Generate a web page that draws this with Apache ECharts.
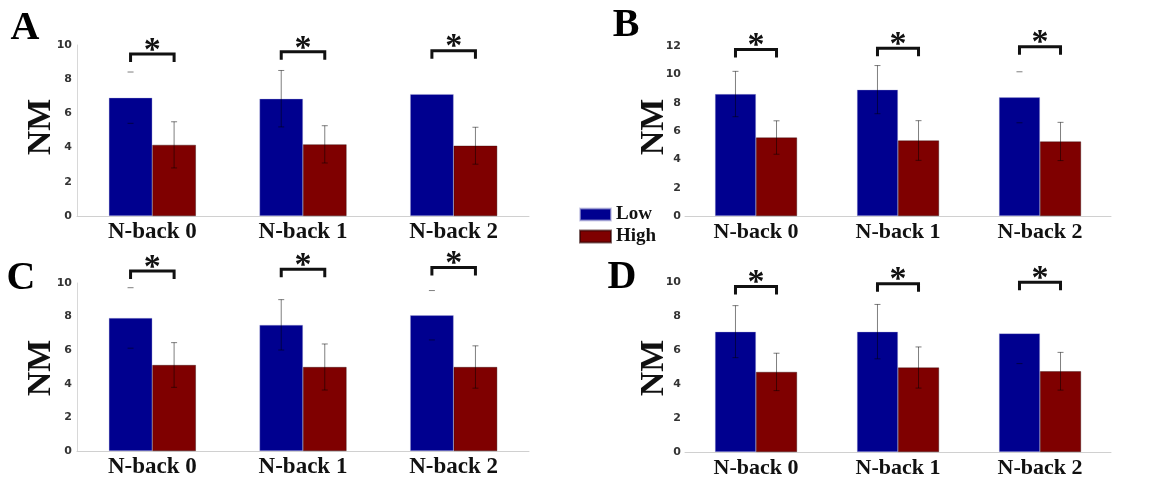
<!DOCTYPE html>
<html>
<head>
<meta charset="utf-8">
<script src="https://cdn.jsdelivr.net/npm/echarts@6/dist/echarts.min.js"></script>
<style>html,body{margin:0;padding:0;background:#fff;}#c{width:1154px;height:479px;}</style>
</head>
<body>
<div id="c"></div>
<script>
// ---------- data ----------
const categories = ['N-back 0', 'N-back 1', 'N-back 2'];
const seriesNames = ['Low', 'High'];
const panelLetters = ['A', 'B', 'C', 'D'];
const yAxisTitle = 'NM';
const yMax = [10, 12, 10, 10];
const yInterval = 2;

// Panel A
const lowA = [6.92, 6.86, 7.13];
const highA = [4.16, 4.19, 4.11];
const lowErrA = [1.5, 1.65, 1.5];
const highErrA = [1.35, 1.09, 1.08];
const sigA = [9.47, 9.6, 9.67];
// Panel B
const lowB = [8.61, 8.92, 8.38];
const highB = [5.54, 5.33, 5.26];
const lowErrB = [1.6, 1.7, 1.8];
const highErrB = [1.18, 1.4, 1.35];
const sigB = [11.76, 11.85, 11.95];
// Panel C
const lowC = [7.92, 7.51, 8.08];
const highC = [5.12, 5.0, 5.0];
const lowErrC = [1.8, 1.5, 1.47];
const highErrC = [1.33, 1.37, 1.26];
const sigC = [10.72, 10.82, 10.92];
// Panel D
const lowD = [7.08, 7.08, 6.98];
const highD = [4.71, 4.97, 4.75];
const lowErrD = [1.53, 1.6, 1.78];
const highErrD = [1.1, 1.21, 1.11];
const sigD = [9.74, 9.9, 9.98];

// how the (partly hidden) error bars of the Low series show up in the figure
const lowErrShown = [
  ['caps', 'full', 'none'],
  ['full', 'full', 'caps'],
  ['caps', 'full', 'caps'],
  ['full', 'full', 'bottom']
];

const panels = [
  {low: lowA, high: highA, lowErr: lowErrA, highErr: highErrA, sig: sigA},
  {low: lowB, high: highB, lowErr: lowErrB, highErr: highErrB, sig: sigB},
  {low: lowC, high: highC, lowErr: lowErrC, highErr: highErrC, sig: sigC},
  {low: lowD, high: highD, lowErr: lowErrD, highErr: highErrD, sig: sigD}
];

// ---------- layout / style ----------
const BAR_FRAC = 0.289;
const COLORS = ['#00008f', '#7f0000'];
const SERIF = '"Liberation Serif", "Times New Roman", serif';
const grids = [
  {left: 77, top: 45, width: 452, height: 171},
  {left: 685, top: 46, width: 426, height: 170},
  {left: 77, top: 283, width: 452, height: 170},
  {left: 685, top: 282, width: 426, height: 171}
];
const letterPos = [[25, 29], [626, 26], [21, 279], [622, 278]];
const nmPos = [[41, 127], [654, 127], [41, 368], [654, 368]];

const chart = echarts.init(document.getElementById('c'), null, {renderer: 'canvas'});

function errRenderer(sign, modes) {
  return function (params, api) {
    const i = api.value(0), v = api.value(1), e = api.value(2);
    const mode = modes ? modes[params.dataIndex] : 'full';
    if (mode === 'none') return null;
    const band = api.size([1, 0])[0];
    const dx = sign * band * BAR_FRAC / 2;
    const pt = api.coord([i, v + e]);
    const pb = api.coord([i, v - e]);
    const x = pt[0] + dx;
    const cw = 3;
    const st = {stroke: 'rgba(0,0,0,0.5)', lineWidth: 1};
    const children = [];
    if (mode === 'full') {
      children.push({type: 'line', shape: {x1: x, y1: pt[1], x2: x, y2: pb[1]}, style: st});
    }
    if (mode !== 'bottom') {
      children.push({type: 'line', shape: {x1: x - cw, y1: pt[1], x2: x + cw, y2: pt[1]}, style: st});
    }
    children.push({type: 'line', shape: {x1: x - cw, y1: pb[1], x2: x + cw, y2: pb[1]}, style: st});
    return {type: 'group', children: children};
  };
}

function sigRenderer(params, api) {
  const i = api.value(0), v = api.value(1);
  const band = api.size([1, 0])[0];
  const half = band * BAR_FRAC / 2;
  const p = api.coord([i, v]);
  const x1 = p[0] - half, x2 = p[0] + half, y = p[1];
  const leg = 8;
  return {
    type: 'group',
    children: [
      {type: 'polyline', shape: {points: [[x1, y + leg], [x1, y], [x2, y], [x2, y + leg]]},
       style: {stroke: '#111', lineWidth: 3, fill: null}},
      {type: 'text', z2: 10, style: {text: '*', x: (x1 + x2) / 2, y: y - 3, align: 'center', verticalAlign: 'middle',
        font: 'bold 34px ' + SERIF, fill: '#111'}}
    ]
  };
}

const xAxes = [], yAxes = [], series = [], graphics = [];
panels.forEach(function (p, k) {
  const wide = (k === 0 || k === 2);
  xAxes.push({
    gridIndex: k, type: 'category', data: categories,
    axisLine: {show: true, lineStyle: {color: '#d0d0d0', width: 1}},
    axisTick: {show: false},
    axisLabel: {margin: 5, color: '#111', fontFamily: SERIF, fontWeight: 'bold', fontSize: wide ? 23 : 22}
  });
  yAxes.push({
    gridIndex: k, type: 'value', min: 0, max: yMax[k], interval: yInterval,
    axisLine: {show: wide, lineStyle: {color: '#d8d8d8', width: 1}},
    axisTick: {show: false},
    splitLine: {show: false},
    axisLabel: {margin: wide ? 5 : 4, color: '#333', fontFamily: '"DejaVu Sans", sans-serif', fontWeight: 'bold', fontSize: 11}
  });
  [p.low, p.high].forEach(function (vals, s) {
    series.push({
      name: seriesNames[s], type: 'bar', xAxisIndex: k, yAxisIndex: k,
      data: vals, barWidth: (BAR_FRAC * 100) + '%', barGap: '0%',
      itemStyle: {color: COLORS[s], borderColor: s === 0 ? 'rgba(180,180,220,0.6)' : 'rgba(40,0,0,0.6)', borderWidth: 0.6},
      z: 2
    });
  });
  series.push({
    type: 'custom', xAxisIndex: k, yAxisIndex: k, z: 3, silent: true,
    renderItem: errRenderer(-1, lowErrShown[k]),
    data: p.low.map(function (v, i) { return [i, v, p.lowErr[i]]; })
  });
  series.push({
    type: 'custom', xAxisIndex: k, yAxisIndex: k, z: 3, silent: true,
    renderItem: errRenderer(1, null),
    data: p.high.map(function (v, i) { return [i, v, p.highErr[i]]; })
  });
  series.push({
    type: 'custom', xAxisIndex: k, yAxisIndex: k, z: 4, silent: true,
    renderItem: sigRenderer,
    data: p.sig.map(function (v, i) { return [i, v]; })
  });
  graphics.push({
    type: 'text', x: letterPos[k][0], y: letterPos[k][1],
    style: {text: panelLetters[k], font: 'bold 40px ' + SERIF, fill: '#000', align: 'center', verticalAlign: 'middle'}
  });
  graphics.push({
    type: 'text', x: nmPos[k][0], y: nmPos[k][1], rotation: Math.PI / 2,
    style: {text: yAxisTitle, font: 'bold 34px ' + SERIF, fill: '#111', align: 'center', verticalAlign: 'middle'}
  });
});

chart.setOption({
  animation: false,
  backgroundColor: '#fff',
  grid: grids,
  xAxis: xAxes,
  yAxis: yAxes,
  series: series,
  graphic: graphics,
  legend: {
    data: seriesNames, orient: 'vertical', left: 574, top: 200,
    itemWidth: 31, itemHeight: 12, itemGap: 3, icon: 'rect',
    textStyle: {fontFamily: SERIF, fontWeight: 'bold', fontSize: 19, color: '#111'},
    selectedMode: false
  }
});
</script>
</body>
</html>
